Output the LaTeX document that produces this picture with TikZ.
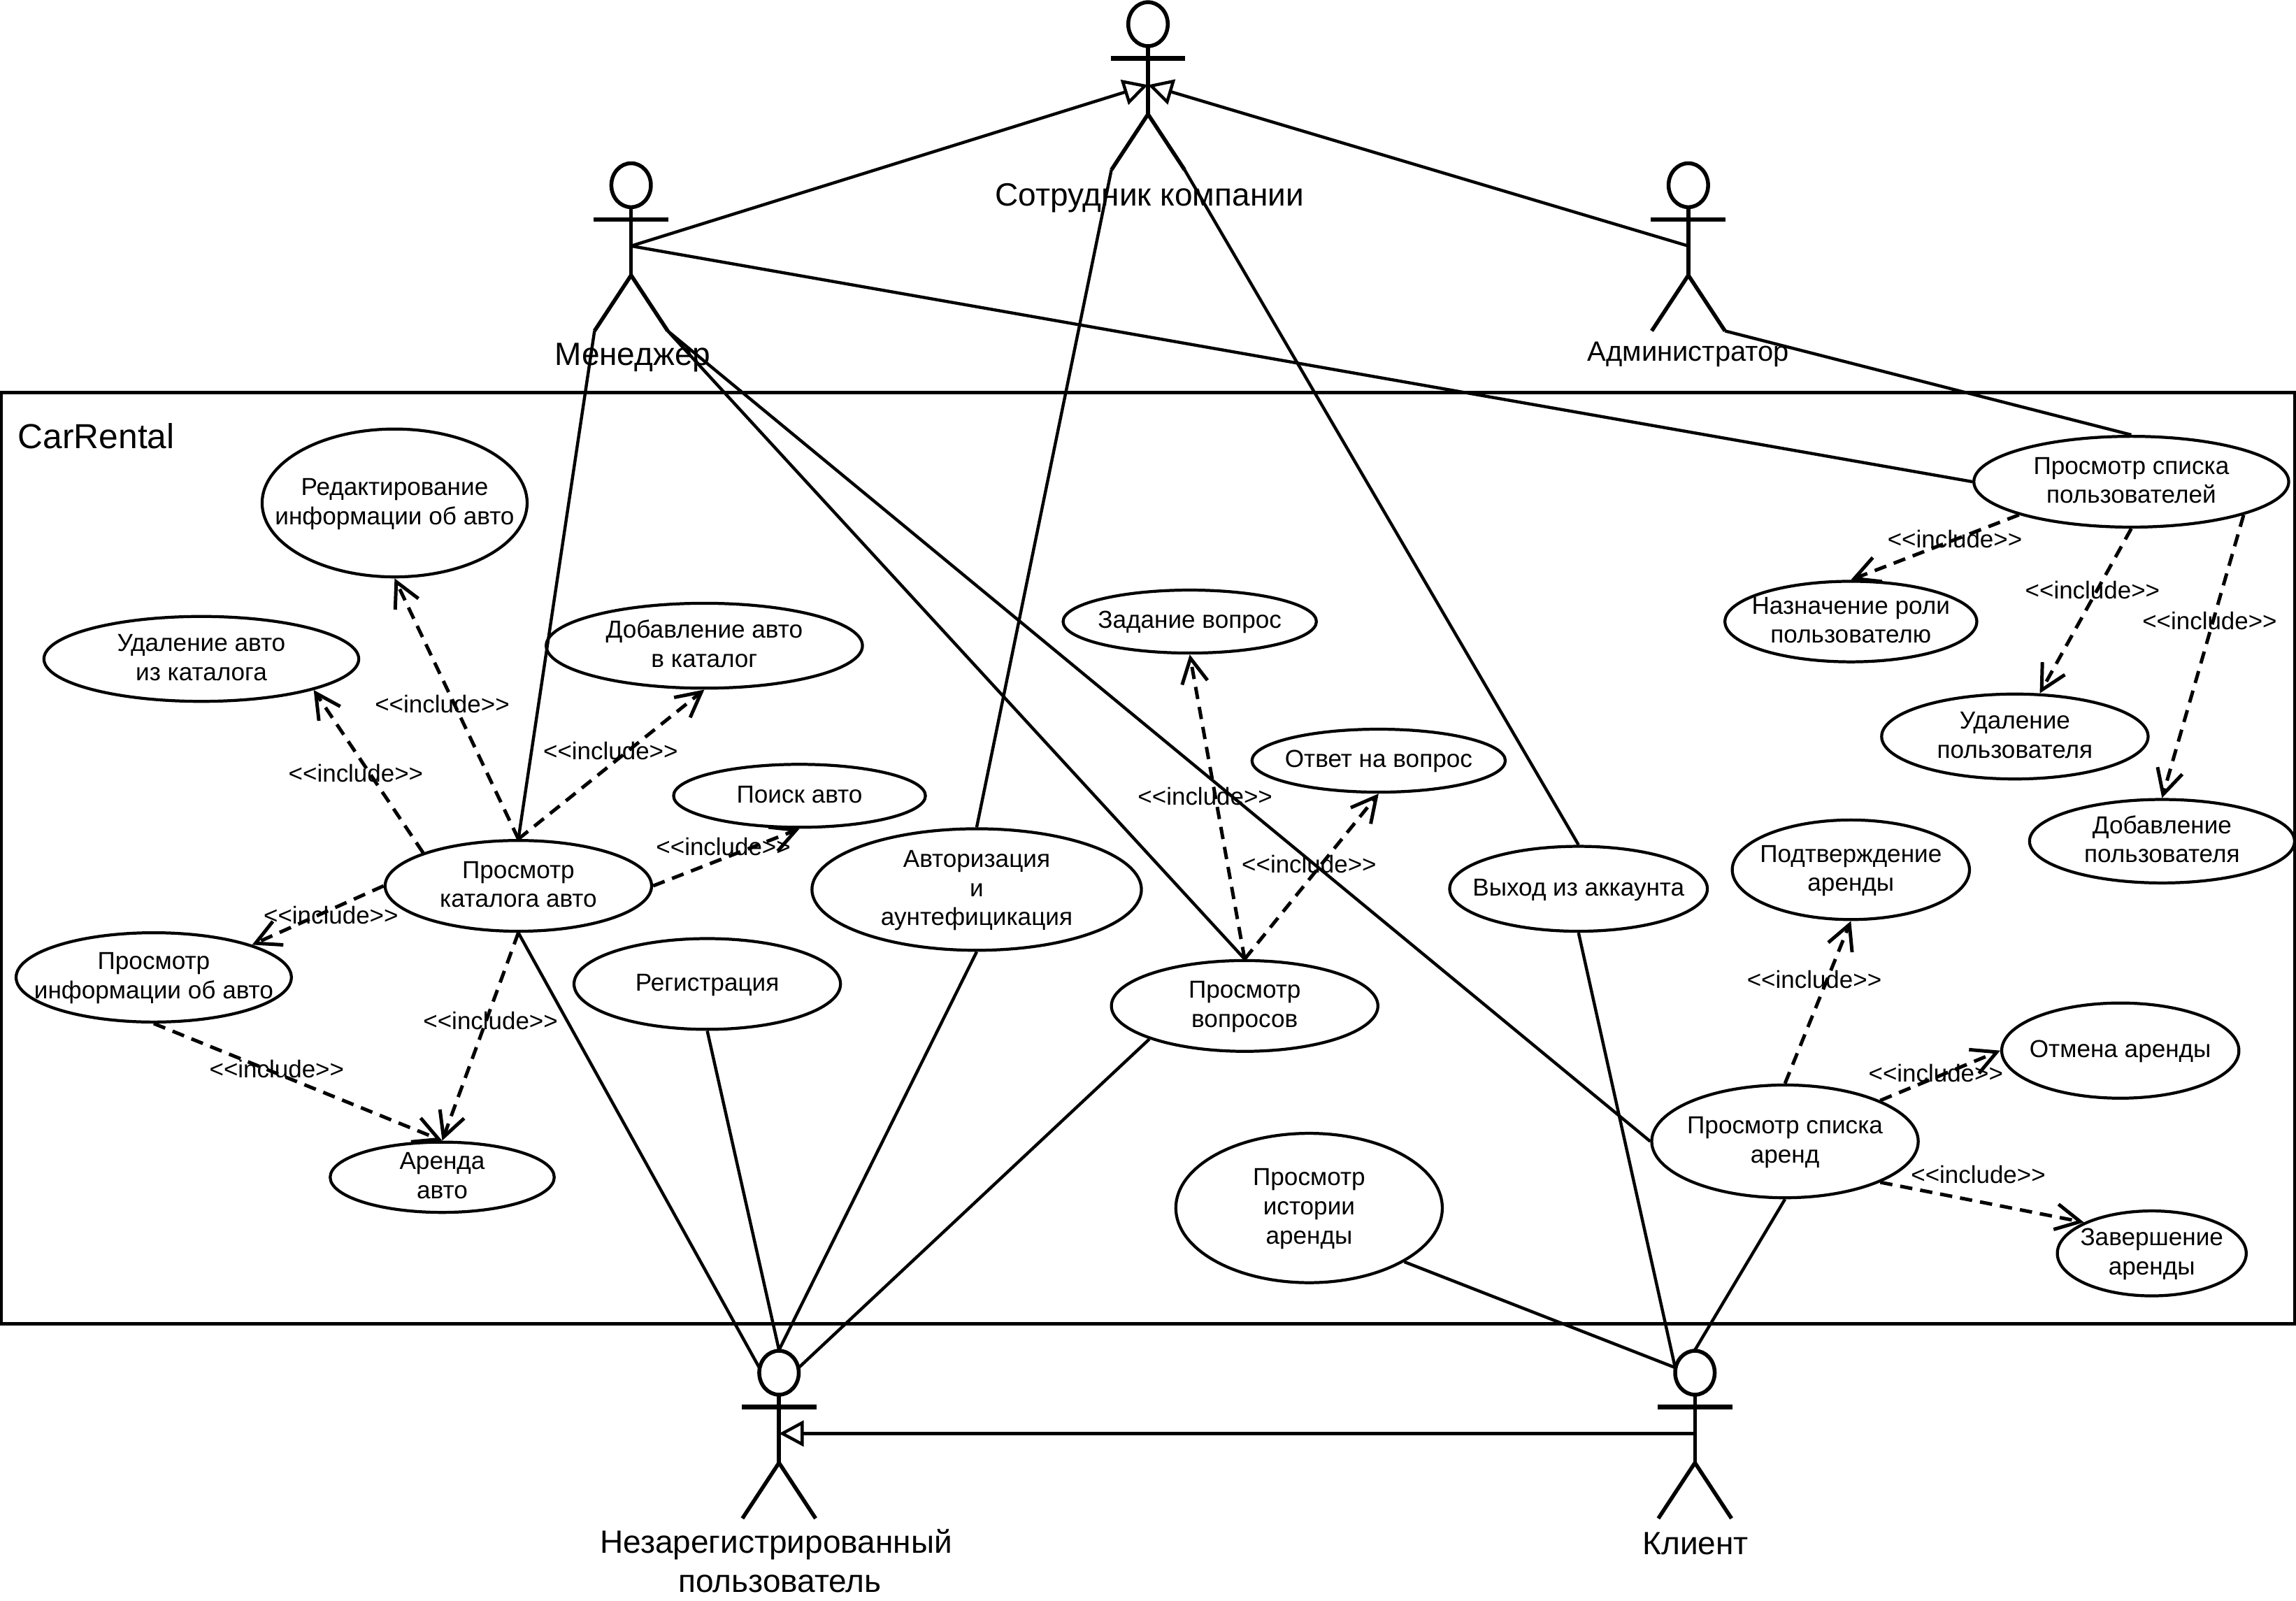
\documentclass[tikz,border=0pt]{standalone}
\usepackage{fontspec}
\setmainfont{Liberation Sans}
\usetikzlibrary{arrows.meta}
\usetikzlibrary{shapes.geometric}
\newcommand{\uctext}[1]{\makebox[0pt]{\raisebox{-5.8pt}{\smash{\begin{tabular}[c]{@{}c@{}}#1\end{tabular}}}}}
\newcommand{\inctext}{<{}<include>{}>}
\tikzset{
  usecase/.style n args={2}{draw,ellipse,line width=1.15pt,inner sep=0pt,minimum width=#1*0.02cm,minimum height=#2*0.02cm,font=\fontsize{9.55}{11.34}\selectfont},
  inclabel/.style={inner sep=0pt,font=\fontsize{9.5}{11.34}\selectfont},
  actorlabel/.style={inner sep=0pt,align=center,font=\fontsize{12.5}{15}\selectfont},
  assoc/.style={line width=1.2pt},
  incl/.style={line width=1.35pt,dash pattern=on 4.8pt off 3.1pt,-{Straight Barb[length=9.6pt,width=10pt]}},
  gen/.style={line width=1.2pt,-{Triangle[open,length=9.6pt,width=10pt,fill=white]}},
  limb/.style={line width=1.5pt}
}
\begin{document}
\begin{tikzpicture}[line cap=butt,line join=miter,x=0.02cm,y=-0.02cm]
\useasboundingbox (0,0) rectangle (1568,1093.4);
\draw[line width=1.2pt] (1,268) rectangle (1567,904);
\node[actorlabel,anchor=west,font=\fontsize{13.5}{15}\selectfont] (system) at (12,298) {CarRental};
% actors
\foreach \n/\cx/\ty in {staff/784/1,manager/431/111,admin/1153/111,guest/532/922,client/1157.5/922}{
\draw[limb] (\cx,\ty+15.5) ellipse (13.5 and 15);
\coordinate (\n-top) at (\cx,\ty);
\coordinate (\n-w) at (\cx-13.5,\ty+12);
\coordinate (\n-e) at (\cx+13.5,\ty+12);
\coordinate (\n-body) at (\cx,\ty+57);
\coordinate (\n-lf) at (\cx-25,\ty+115);
\coordinate (\n-rf) at (\cx+25,\ty+115);
\draw[limb] (\cx,\ty+30.5) -- (\cx,\ty+77);
\draw[limb,line width=1.8pt] (\cx-25.5,\ty+39) -- (\cx+25.5,\ty+39);
\draw[limb] (\n-lf) -- (\cx,\ty+77) -- (\n-rf);
}
\node[actorlabel] (stafflabel) at (785,135) {Сотрудник компании};
\node[actorlabel] (managerlabel) at (432,244) {Менеджер};
\node[actorlabel,font=\fontsize{10.85}{15}\selectfont] (adminlabel) at (1153,242) {Администратор};
\node[actorlabel] (guestlabel) at (530,1066) {Незарегистрированный\\[0pt]\hspace{3pt}пользователь};
\node[actorlabel] (clientlabel) at (1158,1054) {Клиент};
% use cases
\node[usecase={181}{101}] (editcar) at (269.5,343.5) {\uctext{Редактирование\\информации об авто}};
\node[usecase={215}{58}] (delcar) at (137.5,450) {\uctext{Удаление авто\\из каталога}};
\node[usecase={216}{58}] (addcar) at (481,441) {\uctext{Добавление авто\\в каталог}};
\node[usecase={172}{43}] (search) at (546,543.5) {\uctext{Поиск авто}};
\node[usecase={182}{62}] (catalog) at (354,605) {\uctext{Просмотр\\каталога авто}};
\node[usecase={188}{61}] (carinfo) at (105,667.5) {\uctext{Просмотр\\информации об авто}};
\node[usecase={153}{48}] (rent) at (302,804) {\uctext{Аренда\\авто}};
\node[usecase={182}{62}] (signup) at (483,672) {\uctext{Регистрация}};
\node[usecase={225}{83}] (login) at (667,607.5) {\uctext{Авторизация\\и\\аунтефицикация}};
\node[usecase={173}{43}] (ask) at (812.5,424.5) {\uctext{Задание вопрос}};
\node[usecase={173}{43}] (answer) at (941.5,519.5) {\uctext{Ответ на вопрос}};
\node[usecase={182}{62}] (questions) at (850,687) {\uctext{Просмотр\\вопросов}};
\node[usecase={176}{58}] (logout) at (1078,607) {\uctext{Выход из аккаунта}};
\node[usecase={182}{102}] (history) at (894,825) {\uctext{Просмотр\\истории\\аренды}};
\node[usecase={182}{77}] (rents) at (1219,779.5) {\uctext{Просмотр списка\\аренд}};
\node[usecase={162}{68}] (confirm) at (1264,594) {\uctext{Подтверждение\\аренды}};
\node[usecase={162}{65}] (cancel) at (1448,717.5) {\uctext{Отмена аренды}};
\node[usecase={129}{58}] (finish) at (1469.5,856) {\uctext{Завершение\\аренды}};
\node[usecase={215}{62}] (users) at (1455.5,329) {\uctext{Просмотр списка\\пользователей}};
\node[usecase={172}{55}] (setrole) at (1264,424.5) {\uctext{Назначение роли\\пользователю}};
\node[usecase={182}{58}] (deluser) at (1376,503) {\uctext{Удаление\\пользователя}};
\node[usecase={181}{57}] (adduser) at (1476.5,574.5) {\uctext{Добавление\\пользователя}};
% generalization
\draw[gen] (manager-body) -- (staff-body);
\draw[gen] (admin-body) -- (staff-body);
\draw[gen] (client-body) -- (guest-body);
% associations
\draw[assoc] (manager-lf) -- (catalog.north);
\draw[assoc] (manager-rf) -- (questions.north);
\draw[assoc] (manager-rf) -- (rents.west);
\draw[assoc] (manager-body) -- (users.west);
\draw[assoc] (admin-rf) -- (users.north);
\draw[assoc] (staff-lf) -- (login.north);
\draw[assoc] (staff-rf) -- (logout.north);
\draw[assoc] (catalog.south) -- (guest-w);
\draw[assoc] (signup.south) -- (guest-top);
\draw[assoc] (login.south) -- (guest-top);
\draw[assoc] (questions.south west) -- (guest-e);
\draw[assoc] (history.south east) -- (client-w);
\draw[assoc] (logout.south) -- (client-w);
\draw[assoc] (rents.south) -- (client-top);
% includes
\draw[incl] (catalog.north) -- (editcar.south);
\draw[incl] (catalog.north west) -- (delcar.south east);
\draw[incl] (catalog.north) -- (addcar.south);
\draw[incl] (catalog.east) -- (search.south);
\draw[incl] (catalog.west) -- (carinfo.north east);
\draw[incl] (catalog.south) -- (rent.north);
\draw[incl] (carinfo.south) -- (rent.north);
\draw[incl] (questions.north) -- (ask.south);
\draw[incl] (questions.north) -- (answer.south);
\draw[incl] (users.south west) -- (setrole.north);
\draw[incl] (users.south) -- (deluser.60);
\draw[incl] (users.south east) -- (adduser.north);
\draw[incl] (rents.north) -- (confirm.south);
\draw[incl] (rents.north east) -- (cancel.west);
\draw[incl] (rents.south east) -- (finish.north west);
\foreach \lx/\ly [count=\i] in {302/481,243/528,417/513,494/578,226/625,335/697,189/730,823/544,894/590,1335/368,1429/403,1509/424,1239/669,1322/733,1351/802}
\node[inclabel] (incl\i) at (\lx,\ly) {\inctext};
\end{tikzpicture}
\end{document}
